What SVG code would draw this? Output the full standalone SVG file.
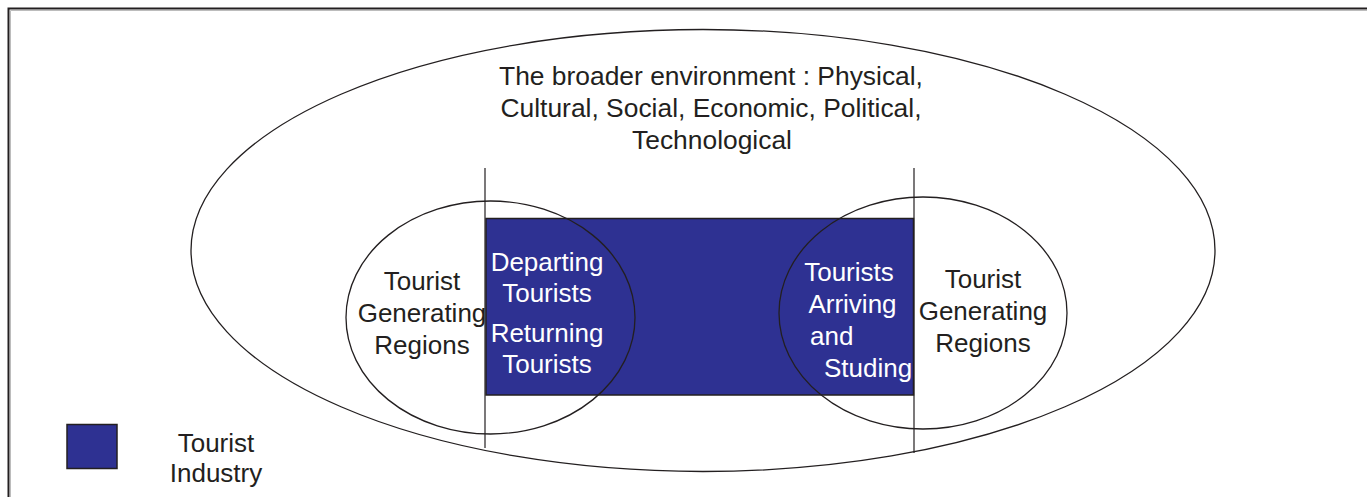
<svg xmlns="http://www.w3.org/2000/svg" width="1367" height="497" viewBox="0 0 1367 497">
  <style>
    .ring { fill: none; stroke: #231f20; stroke-width: 1.3; }
    .rule { fill: none; stroke: #231f20; stroke-width: 1.2; }
    .industry { fill: #2e3192; stroke: #231f20; stroke-width: 1.5; }
    text { font-family: "Liberation Sans", Arial, sans-serif; font-size: 26px; fill: #231f20; }
    .title { font-size: 26.4px; }
    .mid { text-anchor: middle; }
    .inv { fill: #ffffff; }
  </style>

  <rect x="0" y="0" width="1367" height="497" fill="#ffffff"/>

  <!-- page frame -->
  <path d="M8.5,497 V8.5 H1367" fill="none" stroke="#231f20" stroke-width="2"/>
  <path d="M10.5,497 V10.5 H1367" fill="none" stroke="#bcbcbc" stroke-width="1"/>

  <!-- broader environment -->
  <g id="environment">
    <ellipse class="ring" cx="703" cy="250.5" rx="512" ry="221"/>
    <text class="mid title" x="711" y="85">The broader environment : Physical,</text>
    <text class="mid title" x="711" y="117">Cultural, Social, Economic, Political,</text>
    <text class="mid title" x="712" y="149">Technological</text>
  </g>

  <!-- tourist industry band -->
  <g id="industry">
    <rect class="industry" x="486" y="218.5" width="427.5" height="176.5"/>
  </g>

  <!-- generating region, left -->
  <g id="origin-region">
    <ellipse class="ring" cx="490.5" cy="317.5" rx="144.5" ry="116.5"/>
    <text class="mid" x="422" y="290">Tourist</text>
    <text class="mid" x="422" y="322">Generating</text>
    <text class="mid" x="422" y="354">Regions</text>
  </g>

  <!-- generating region, right -->
  <g id="destination-region">
    <ellipse class="ring" cx="923" cy="313" rx="144" ry="116"/>
    <text class="mid" x="983" y="288">Tourist</text>
    <text class="mid" x="983" y="320">Generating</text>
    <text class="mid" x="983" y="352">Regions</text>
  </g>

  <!-- flows inside the industry band -->
  <g id="departing">
    <text class="mid inv" x="547" y="271">Departing</text>
    <text class="mid inv" x="547" y="302">Tourists</text>
  </g>
  <g id="returning">
    <text class="mid inv" x="547" y="342">Returning</text>
    <text class="mid inv" x="547" y="373">Tourists</text>
  </g>
  <g id="arriving">
    <text class="mid inv" x="849" y="281">Tourists</text>
    <text class="mid inv" x="852.5" y="313">Arriving</text>
    <text class="inv" x="810" y="345">and</text>
    <text class="inv" x="824" y="377">Studing</text>
  </g>

  <!-- region boundaries -->
  <g id="connectors">
    <line class="rule" x1="485" y1="168" x2="485" y2="448"/>
    <line class="rule" x1="914" y1="168" x2="914" y2="453"/>
  </g>

  <!-- legend -->
  <g id="legend">
    <rect class="industry" x="67" y="424.5" width="50" height="44"/>
    <text class="mid" x="216" y="452">Tourist</text>
    <text class="mid" x="216" y="482">Industry</text>
  </g>
</svg>
